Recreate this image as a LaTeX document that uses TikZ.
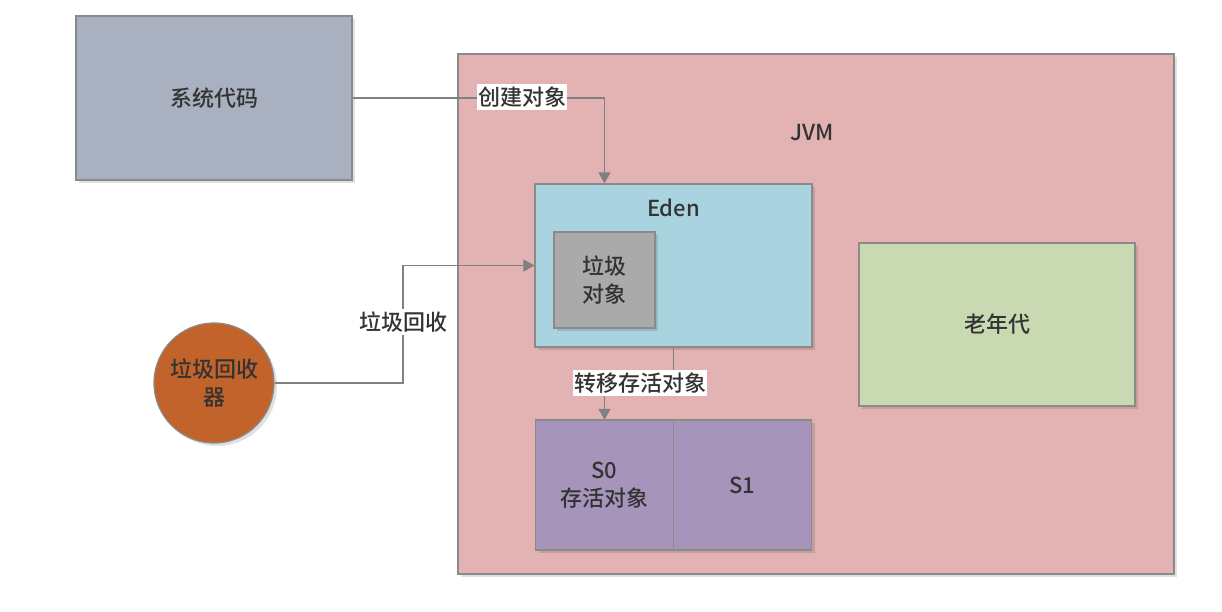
\documentclass[tikz,border=0pt]{standalone}
\usepackage{fontspec}
\setmainfont{Noto Sans CJK SC}[UprightFont={* Medium}]
\usetikzlibrary{arrows.meta,shadows}
\definecolor{syscol}{HTML}{A9B0BF}
\definecolor{jvmcol}{HTML}{E3B2B3}
\definecolor{edencol}{HTML}{A8D3DF}
\definecolor{garbcol}{HTML}{AAAAAA}
\definecolor{oldcol}{HTML}{C9DAB3}
\definecolor{survcol}{HTML}{A794BB}
\definecolor{gccol}{HTML}{C1632A}
\definecolor{edgecol}{HTML}{8A8A8A}
\definecolor{linecol}{HTML}{808080}
\definecolor{txtcol}{HTML}{333333}
\begin{document}
\begin{tikzpicture}[x=1pt,y=-1pt,
  every node/.style={font=\fontsize{22}{28}\selectfont, text=txtcol, inner sep=0pt, align=center},
  box/.style={rectangle, draw=edgecol, line width=1.2pt,
    drop shadow={shadow xshift=3pt, shadow yshift=-3pt, fill=black, opacity=0.12}},
  conn/.style={draw=linecol, line width=1.4pt},
  arr/.style={conn, -{Triangle[width=12pt,length=11pt]}},
  lbl/.style={fill=white, inner xsep=1pt, inner ysep=3pt}
]
\useasboundingbox (0,0) rectangle (1222,612);

% left side: application code and collector
\node[box, fill=syscol, minimum width=276pt, minimum height=164pt] (sys) at (214,98) {系统代码};
\node[circle, draw=edgecol, line width=1.2pt, fill=gccol, minimum size=120pt,
  drop shadow={shadow xshift=3pt, shadow yshift=-3pt, fill=black, opacity=0.12}] (gc) at (214,383) {垃圾回收\\器};

% JVM heap
\node[box, fill=jvmcol, minimum width=716pt, minimum height=520pt] (jvm) at (816,314) {};
\node (jvmlbl) at (812,133) {JVM};

\node[box, fill=edencol, minimum width=277pt, minimum height=163pt] (eden) at (673.5,265.5) {};
\node (edenlbl) at (673.5,208) {Eden};
\node[box, fill=garbcol, minimum width=101pt, minimum height=96pt] (garb) at (604.5,280) {垃圾\\对象};

\node[box, fill=oldcol, minimum width=276pt, minimum height=163pt] (old) at (997,324.5) {老年代};

\node[box, fill=survcol, minimum width=276pt, minimum height=130pt] (surv) at (673.5,485) {};
\node[rectangle, minimum width=137pt, minimum height=130pt] (s0) at (604.5,485) {S0\\存活对象};
\node[rectangle, minimum width=139pt, minimum height=130pt] (s1) at (742.5,485) {S1};
\draw[draw=edgecol, line width=1.2pt] (s0.north east) -- (s0.south east);

% connectors
\draw[arr] (sys.east) -| (eden.north -| garb.north);
\node[lbl] (create) at (522,97) {创建对象};

\coordinate (gcbend) at (403,383);
\draw[arr] (gc.east) -- (gcbend) |- (eden.west);
\node[lbl] (collect) at (403,322) {垃圾回收};

\draw[arr] (eden.south) -- ++(0,36) -| (s0.north);
\node[lbl] (move) at (640,383) {转移存活对象};
\end{tikzpicture}
\end{document}
